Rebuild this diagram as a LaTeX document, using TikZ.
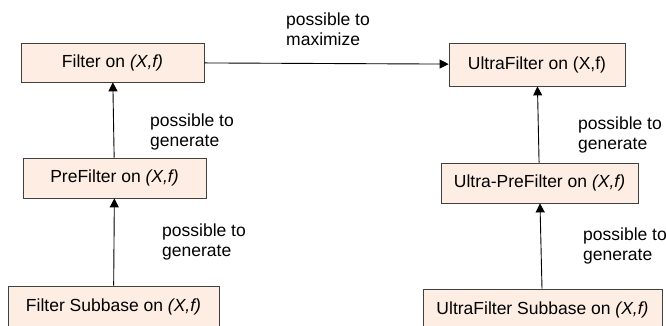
\documentclass[tikz,border=0pt]{standalone}
\usepackage{fontspec}
\setmainfont{Liberation Sans}
\usetikzlibrary{arrows.meta}

\definecolor{boxfill}{RGB}{253,237,226}
\tikzset{
  box/.style={draw=black!75, fill=boxfill, line width=0.8pt, inner sep=0pt, font=\fontsize{17.5}{20}\selectfont},
  lbl/.style={anchor=north west, inner sep=0pt, align=left, font=\fontsize{17.5}{20}\selectfont},
  link/.style={-{Triangle[length=9pt,width=9pt]}, line width=0.9pt}
}

\begin{document}
\begin{tikzpicture}[x=1pt,y=-1pt]

\useasboundingbox (0,0) rectangle (666,325);
\clip (0,0) rectangle (666,325);

% Left column
\node [box, minimum width=183pt, minimum height=39pt] (filt) at (112.5,62.5) {Filter on \textit{(X,f)}};
\node [box, minimum width=183pt, minimum height=40pt] (pre) at (114.5,178) {PreFilter on \textit{(X,f)}};
\node [box, minimum width=211pt, minimum height=42pt] (sub) at (113.5,307) {Filter Subbase on \textit{(X,f)}};

% Right column
\node [box, minimum width=176pt, minimum height=43pt] (ultra) at (537,64.5) {UltraFilter on (X,f)};
\node [box, minimum width=197pt, minimum height=40pt] (upre) at (539.5,183) {Ultra-PreFilter on \textit{(X,f)}};
\node [box, minimum width=239pt, minimum height=42pt] (usub) at (542.5,310) {UltraFilter Subbase on \textit{(X,f)}};

% Arrows
\draw [link] (filt) -- (ultra);
\draw [link] (pre) -- (filt);
\draw [link] (sub) -- (pre);
\draw [link] (upre) -- (ultra);
\draw [link] (usub) -- (upre);

% Labels
\node [lbl] (lblmax) at (286,13) {possible to\\maximize};
\node [lbl] (lblpre) at (150,114) {possible to\\generate};
\node [lbl] (lblsub) at (162,224) {possible to\\generate};
\node [lbl] (lblupre) at (578,117) {possible to\\generate};
\node [lbl] (lblusub) at (583,228) {possible to\\generate};

\end{tikzpicture}
\end{document}
